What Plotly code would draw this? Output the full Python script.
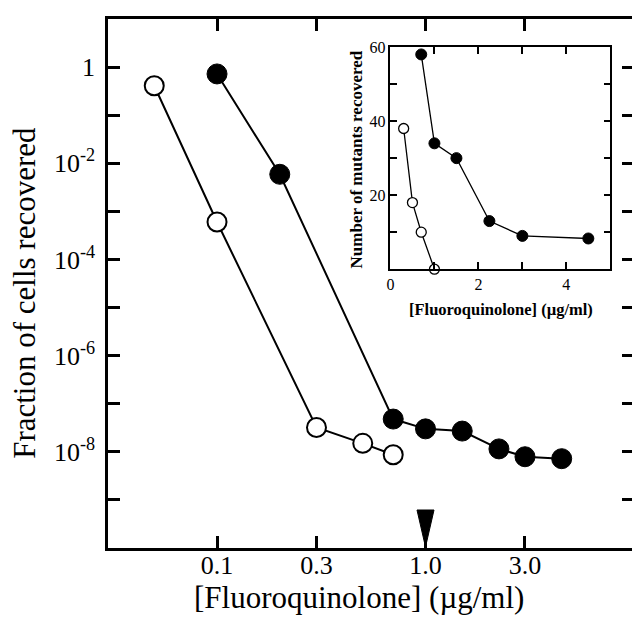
import math
import plotly.graph_objects as go

# Main panel data
open_x = [0.05, 0.1, 0.3, 0.5, 0.7]
open_y = [0.41, 6.0e-4, 3.2e-8, 1.5e-8, 8.7e-9]
filled_x = [0.1, 0.2, 0.7, 1.0, 1.5, 2.25, 3.0, 4.5]
filled_y = [0.72, 5.9e-3, 4.8e-8, 3.0e-8, 2.7e-8, 1.15e-8, 7.9e-9, 7.2e-9]

# Inset data
inset_open_x = [0.3, 0.5, 0.7, 1.0]
inset_open_y = [38, 18, 10, 0]
inset_filled_x = [0.7, 1.0, 1.5, 2.25, 3.0, 4.5]
inset_filled_y = [58, 34, 30, 13, 9, 8.3]

# Axis ticks
x_tickvals = [0.1, 0.3, 1.0, 3.0]
x_ticktext = ["0.1", "0.3", "1.0", "3.0"]
y_tickvals = [10.0 ** e for e in range(-9, 1)]
y_ticktext = ["", "10<sup>-8</sup>", "", "10<sup>-6</sup>", "", "10<sup>-4</sup>", "",
              "10<sup>-2</sup>", "", "1"]
inset_x_tickvals = [0, 1, 2, 3, 4]
inset_x_ticktext = ["0", "", "2", "", "4"]
inset_y_tickvals = [0, 10, 20, 30, 40, 50, 60]
inset_y_ticktext = ["", "", "20", "", "40", "", "60"]

arrow_x = 1.0  # MIC marker

FONT = "Liberation Serif"
BLACK = "black"

fig = go.Figure()

fig.add_trace(go.Scatter(
    x=filled_x, y=filled_y, mode="lines+markers",
    line=dict(color=BLACK, width=2),
    marker=dict(symbol="circle", size=20, color=BLACK, line=dict(color=BLACK, width=1)),
    xaxis="x", yaxis="y", showlegend=False, cliponaxis=False))
fig.add_trace(go.Scatter(
    x=open_x, y=open_y, mode="lines+markers",
    line=dict(color=BLACK, width=2),
    marker=dict(symbol="circle", size=19, color="white", line=dict(color=BLACK, width=2)),
    xaxis="x", yaxis="y", showlegend=False, cliponaxis=False))

fig.add_trace(go.Scatter(
    x=inset_filled_x, y=inset_filled_y, mode="lines+markers",
    line=dict(color=BLACK, width=1.3),
    marker=dict(symbol="circle", size=11, color=BLACK, line=dict(color=BLACK, width=1)),
    xaxis="x2", yaxis="y2", showlegend=False, cliponaxis=False))
fig.add_trace(go.Scatter(
    x=inset_open_x, y=inset_open_y, mode="lines+markers",
    line=dict(color=BLACK, width=1.3),
    marker=dict(symbol="circle", size=10, color="white", line=dict(color=BLACK, width=1.3)),
    xaxis="x2", yaxis="y2", showlegend=False, cliponaxis=False))

# Arrow (MIC) drawn as pixel-sized path anchored at x = arrow_x on the bottom axis
fig.add_shape(type="path", xref="x", yref="y domain",
              xsizemode="pixel", ysizemode="pixel",
              xanchor=arrow_x, yanchor=0,
              path="M0,1 L-8.5,38 L8.5,38 Z",
              fillcolor=BLACK, line=dict(color=BLACK, width=1))

fig.update_layout(
    width=632, height=624,
    margin=dict(l=100, r=3, t=7, b=84),
    paper_bgcolor="white", plot_bgcolor="white",
    font=dict(family=FONT, color=BLACK),
    xaxis=dict(type="log", range=[math.log10(0.03), 1.0], domain=[0, 1],
               tickvals=x_tickvals, ticktext=x_ticktext,
               ticks="inside", ticklen=12, tickwidth=2.5, tickcolor=BLACK,
               showline=True, linecolor=BLACK, linewidth=2.5, mirror="ticks",
               showgrid=False, zeroline=False,
               ticklabelstandoff=-8,
               tickfont=dict(family=FONT, size=26, color=BLACK)),
    yaxis=dict(type="log", range=[-10, 1], domain=[0, 1],
               tickvals=y_tickvals, ticktext=y_ticktext,
               ticks="inside", ticklen=12, tickwidth=2.5, tickcolor=BLACK,
               showline=True, linecolor=BLACK, linewidth=2.5, mirror="ticks",
               showgrid=False, zeroline=False,
               ticklabelstandoff=5,
               tickfont=dict(family=FONT, size=26, color=BLACK)),
    xaxis2=dict(range=[0, 5], domain=[0.537, 0.955], anchor="y2",
                tickvals=inset_x_tickvals, ticktext=inset_x_ticktext,
                ticks="inside", ticklen=7, tickwidth=1.5, tickcolor=BLACK,
                showline=True, linecolor=BLACK, linewidth=1.5, mirror="ticks",
                showgrid=False, zeroline=False,
                tickfont=dict(family=FONT, size=16, color=BLACK)),
    yaxis2=dict(range=[0, 60], domain=[0.527, 0.947], anchor="x2",
                tickvals=inset_y_tickvals, ticktext=inset_y_ticktext,
                ticks="inside", ticklen=7, tickwidth=1.5, tickcolor=BLACK,
                showline=True, linecolor=BLACK, linewidth=1.5, mirror="ticks",
                showgrid=False, zeroline=False,
                tickfont=dict(family=FONT, size=16, color=BLACK)),
    annotations=[
        dict(text="[Fluoroquinolone] (µg/ml)", xref="paper", yref="paper",
             x=0.478, y=-0.094, showarrow=False, xanchor="center", yanchor="middle",
             font=dict(family=FONT, size=31, color=BLACK)),
        dict(text="Fraction of cells recovered", xref="paper", yref="paper",
             x=-0.160, y=0.482, showarrow=False, textangle=-90,
             xanchor="center", yanchor="middle",
             font=dict(family=FONT, size=31, color=BLACK)),
        dict(text="<b>[Fluoroquinolone] (µg/ml)</b>", xref="paper", yref="paper",
             x=0.747, y=0.450, showarrow=False, xanchor="center", yanchor="middle",
             font=dict(family=FONT, size=16.5, color=BLACK)),
        dict(text="<b>Number of mutants recovered</b>", xref="paper", yref="paper",
             x=0.472, y=0.735, showarrow=False, textangle=-90,
             xanchor="center", yanchor="middle",
             font=dict(family=FONT, size=17, color=BLACK)),
    ],
)

fig.write_html("out.html")
